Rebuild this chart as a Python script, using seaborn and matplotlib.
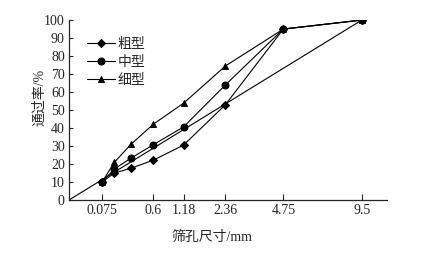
import numpy as np
import pandas as pd
import matplotlib
matplotlib.use('Agg')
import matplotlib.pyplot as plt
import seaborn as sns

# sieve sizes (mm) and passing percentages
sieve = [0.075, 0.15, 0.3, 0.6, 1.18, 2.36, 4.75, 9.5]
coarse = [10, 15, 17.6, 22.2, 30.5, 53, 95, 100]
medium = [10, 17.2, 23.2, 30.8, 40.6, 64, 95, 100]
fine = [10, 20.9, 30.9, 42.2, 53.8, 74.5, 95, 100]
# maximum density line (unlabelled)
md_x = [0, 9.5]
md_y = [0, 100]

tick_pos = [0.075, 0.6, 1.18, 2.36, 4.75, 9.5]
tick_lab = ['0.075', '0.6', '1.18', '2.36', '4.75', '9.5']
labels = ['粗型', '中型', '细型']
markers = ['D', 'o', '^']
msizes = [4, 5, 5]

sns.set_style('ticks')
plt.rcParams['font.family'] = ['Liberation Serif', 'Noto Sans CJK SC']
plt.rcParams['font.size'] = 10

fig = plt.figure(figsize=(4.27, 2.54), dpi=100)
ax = fig.add_axes([0.1616, 0.2126, 0.906 - 0.1616, 0.921 - 0.2126])

p = 0.45
ax.set_xscale('function', functions=(lambda v: np.power(np.clip(v, 0, None), p),
                                     lambda v: np.power(np.clip(v, 0, None), 1 / p)))

sns.lineplot(x=md_x, y=md_y, color='k', lw=0.8, ax=ax, legend=False)
for vals, lab, m, ms in zip([coarse, medium, fine], labels, markers, msizes):
    sns.lineplot(x=sieve, y=vals, color='k', lw=0.8, marker=m, markersize=ms,
                 markeredgecolor='k', markerfacecolor='k', label=lab, ax=ax, sort=False)

ax.set_xlim(0, 11.4)
ax.set_ylim(0, 100)
ax.set_xticks(tick_pos)
ax.set_xticklabels(tick_lab)
ax.set_yticks(range(0, 101, 10))
ax.tick_params(direction='in', length=3, width=0.8, labelsize=10, pad=3)
ax.tick_params(axis='x', length=4)
for s in ['top', 'right']:
    ax.spines[s].set_visible(False)
for s in ['left', 'bottom']:
    ax.spines[s].set_linewidth(0.9)

ax.set_xlabel('筛孔尺寸/mm', fontsize=10)
ax.xaxis.set_label_coords(0.45, -0.17)
ax.set_ylabel('通过率/%', fontsize=10)
ax.yaxis.set_label_coords(-0.07, 0.57)

ax.legend(loc='upper left', bbox_to_anchor=(0.04, 0.93), frameon=False,
          handlelength=2.0, handletextpad=0.2, labelspacing=0.35, borderaxespad=0,
          fontsize=10)

fig.savefig('out.png', dpi=100)
